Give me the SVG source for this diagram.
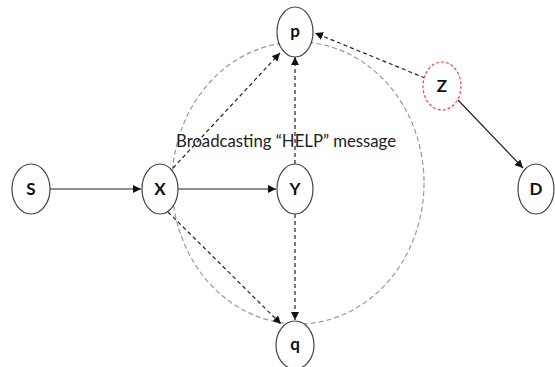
<svg xmlns="http://www.w3.org/2000/svg" width="555" height="367" viewBox="0 0 555 367">
<style>
.node{fill:#fff;stroke:#444;stroke-width:1.2}
.lbl{font-family:Lato,"Liberation Sans",Arial,sans-serif;font-size:17px;font-weight:bold;fill:#111;text-anchor:middle}
.solid{stroke:#222;stroke-width:1.2;fill:none}
.dash{stroke:#222;stroke-width:1.2;fill:none;stroke-dasharray:4 3}
.range{stroke:#999;stroke-width:1.2;fill:none;stroke-dasharray:5 3}
</style>
<defs>
<marker id="ah" viewBox="0 0 10 10" refX="10" refY="5" markerWidth="8" markerHeight="8" markerUnits="userSpaceOnUse" orient="auto">
<path d="M0,0 L10,5 L0,10 z" fill="#111"/>
</marker>
</defs>
<rect width="555" height="367" fill="#fff"/>
<ellipse class="range" cx="298" cy="183" rx="126" ry="141"/>
<text x="176" y="147" font-family="Lato,Liberation Sans,Arial,sans-serif" font-size="17" fill="#222" textLength="220" lengthAdjust="spacingAndGlyphs">Broadcasting “HELP” message</text>
<g id="connectors">
<line class="solid" x1="50" y1="189" x2="141" y2="189" marker-end="url(#ah)"/>
<line class="solid" x1="178" y1="189" x2="276" y2="189" marker-end="url(#ah)"/>
<line class="dash" x1="173" y1="168" x2="280" y2="53" marker-end="url(#ah)"/>
<line class="dash" x1="295" y1="164" x2="295" y2="57" marker-end="url(#ah)"/>
<line class="dash" x1="425" y1="78" x2="315" y2="33" marker-end="url(#ah)"/>
<line class="solid" x1="458" y1="100" x2="523" y2="168" marker-end="url(#ah)"/>
<line class="dash" x1="168" y1="212" x2="281" y2="324" marker-end="url(#ah)"/>
<line class="dash" x1="295" y1="214" x2="295" y2="320" marker-end="url(#ah)"/>
</g>
<g id="S"><ellipse class="node" cx="31" cy="189" rx="19" ry="25"/><text class="lbl" x="31" y="195">S</text></g>
<g id="X"><ellipse class="node" cx="160" cy="189" rx="18" ry="25"/><text class="lbl" x="160" y="195">X</text></g>
<g id="Y"><ellipse class="node" cx="295" cy="189" rx="18" ry="25"/><text class="lbl" x="295" y="195" font-weight="normal">Y</text></g>
<g id="p"><ellipse class="node" cx="295" cy="32" rx="18" ry="25"/><text class="lbl" x="295" y="37">p</text></g>
<g id="q"><ellipse class="node" cx="295" cy="345" rx="19" ry="24"/><text class="lbl" x="295" y="350">q</text></g>
<g id="Z"><ellipse cx="442" cy="86" rx="19" ry="24" fill="#fff" stroke="#e8474a" stroke-width="1.2" stroke-dasharray="3 2"/><text class="lbl" x="442" y="92">Z</text></g>
<g id="D"><ellipse class="node" cx="536" cy="189" rx="18" ry="25"/><text class="lbl" x="536" y="195">D</text></g>
</svg>
